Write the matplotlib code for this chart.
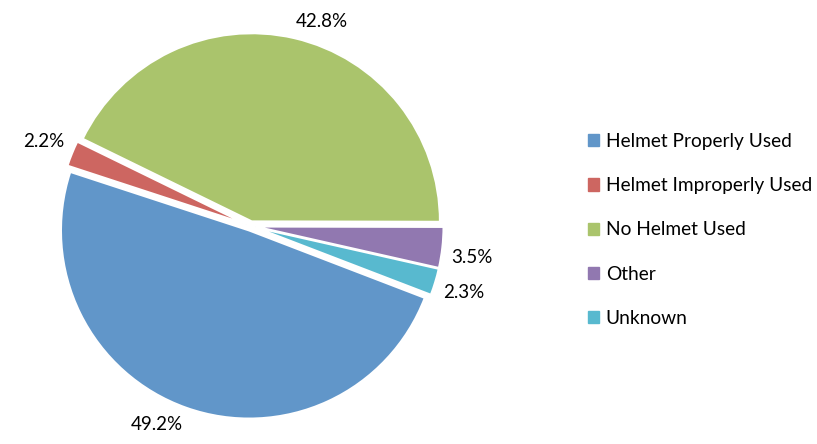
import numpy as np
import matplotlib.pyplot as plt

plt.rcParams['font.family'] = ['Lato', 'DejaVu Sans']

categories = ["Helmet Properly Used", "Helmet Improperly Used", "No Helmet Used", "Other", "Unknown"]
shares = [49.2, 2.2, 42.8, 3.5, 2.3]
colors = ["#6196C9", "#CD6661", "#AAC46C", "#9178B0", "#58B9CF"]

fig = plt.figure(figsize=(8.17, 4.44), dpi=100)
ax = fig.add_axes([0.0535, 0.0248, 0.5067, 0.9324])

wedges, _ = ax.pie(shares, colors=colors, startangle=339, counterclock=False,
                   explode=[0.025] * len(shares), radius=1.0,
                   wedgeprops=dict(edgecolor="white", linewidth=1.5))
ax.set_xlim(-1.1, 1.1)
ax.set_ylim(-1.1, 1.1)
ax.set_aspect("equal")

# outside-end labels, anchored like Excel
for w, v in zip(wedges, shares):
    mid = np.deg2rad((w.theta1 + w.theta2) / 2)
    x, y = 1.07 * np.cos(mid), 1.07 * np.sin(mid)
    ha = "left" if x >= 0 else "right"
    va = "bottom" if y >= 0 else "top"
    ax.text(x, y, f"{v:.1f}%", ha=ha, va=va, fontsize=13.5)

handles = [plt.Rectangle((0, 0), 1, 1, color=c) for c in colors]
fig.legend(handles, categories, loc="center left", bbox_to_anchor=(0.698, 0.482),
           frameon=False, fontsize=13.8, labelspacing=1.42, handlelength=0.6,
           handleheight=0.6, handletextpad=0.35)

fig.savefig("out.png", dpi=100)
